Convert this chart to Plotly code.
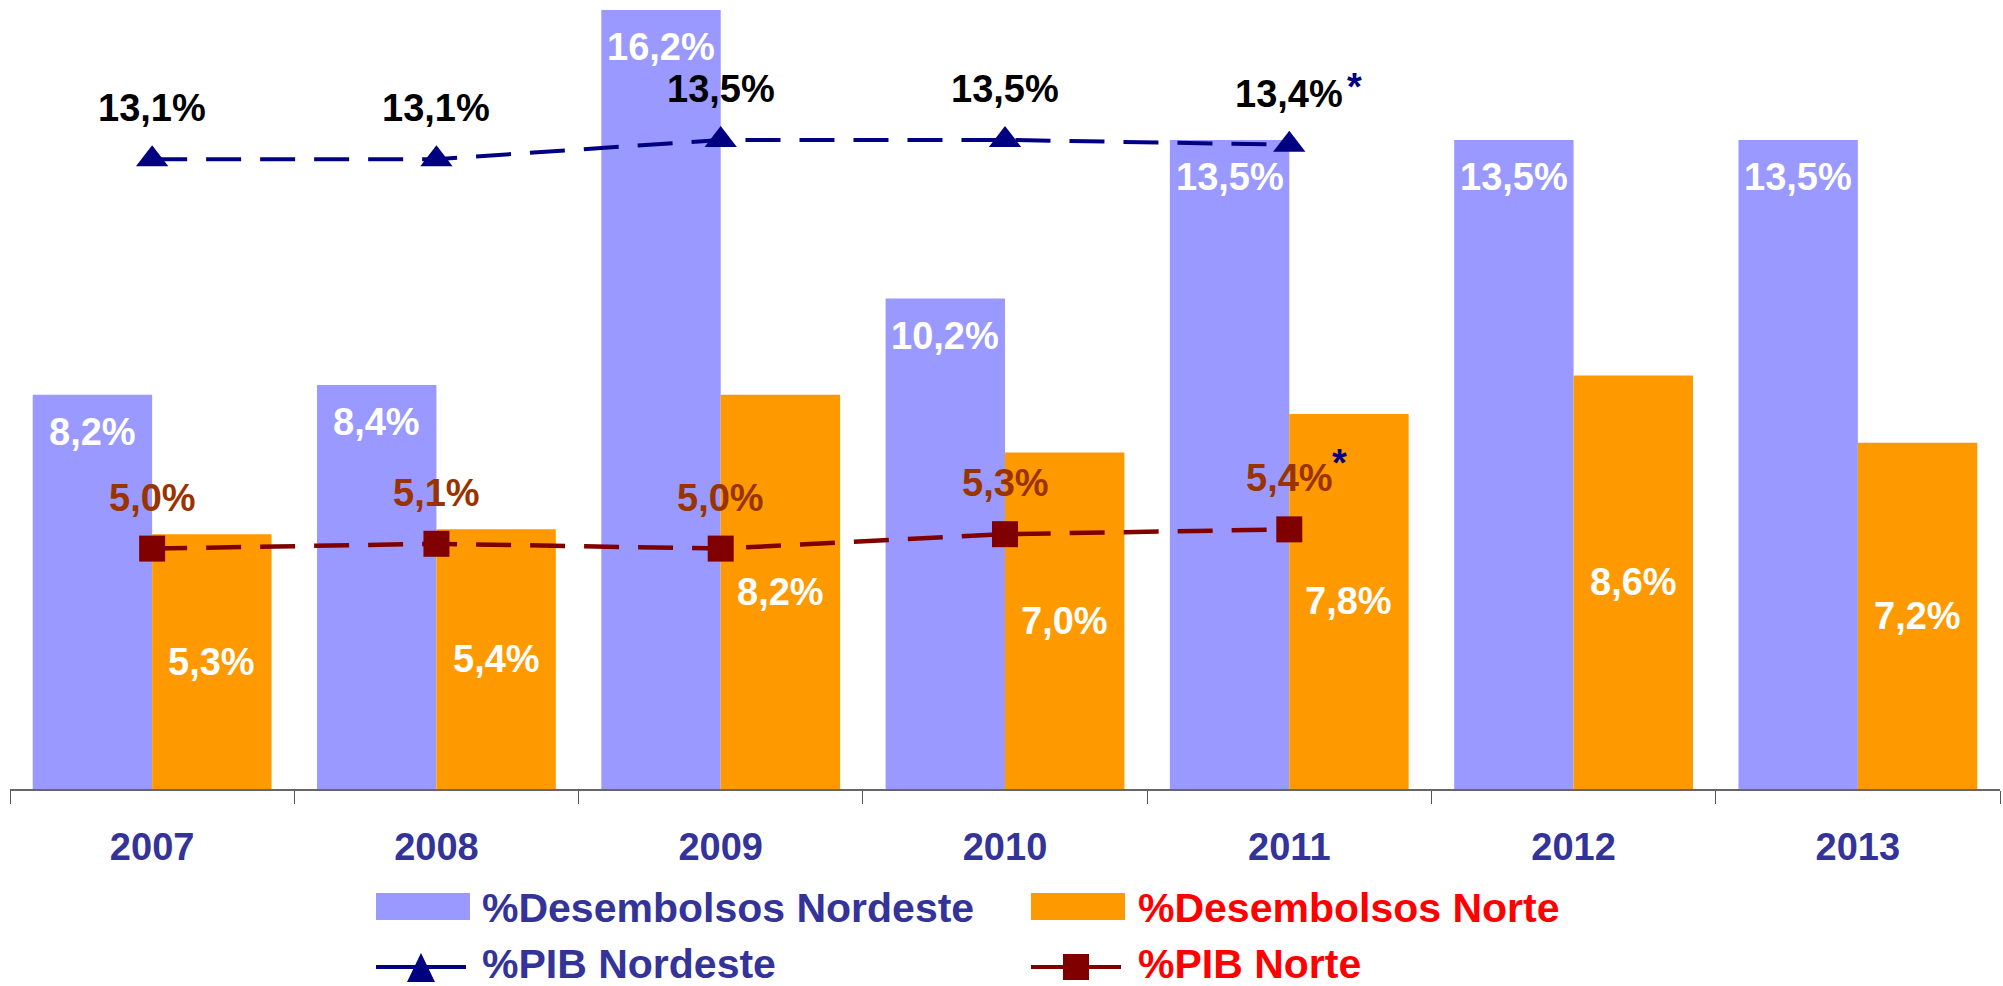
import plotly.graph_objects as go

years = ["2007", "2008", "2009", "2010", "2011", "2012", "2013"]
desemb_nordeste = [8.2, 8.4, 16.2, 10.2, 13.5, 13.5, 13.5]
desemb_norte = [5.3, 5.4, 8.2, 7.0, 7.8, 8.6, 7.2]
pib_years = ["2007", "2008", "2009", "2010", "2011"]
pib_nordeste = [13.1, 13.1, 13.5, 13.5, 13.4]
pib_norte = [5.0, 5.1, 5.0, 5.3, 5.4]
starred_year = "2011"

legend_labels = ["%Desembolsos Nordeste", "%Desembolsos Norte", "%PIB Nordeste", "%PIB Norte"]

C_NE_BAR = "#9999FF"
C_N_BAR = "#FF9900"
C_NE_LINE = "#000080"
C_N_LINE = "#800000"
C_N_LABEL = "#993300"
C_AXIS_TXT = "#333399"

FONT = "Liberation Sans, Arial, sans-serif"
W, H = 2003, 986
ML, MR, MT, MB = 10, 3, 0, 197
PW, PH = W - ML - MR, H - MT - MB
YMAX = 16.41


def fmt(v):
    return f"{v:.1f}".replace(".", ",") + "%"


def px(xp):
    return (xp - ML) / PW


def py(yp):
    return (H - MB - yp) / PH


def idx(yr):
    return years.index(yr)


fig = go.Figure()
fig.add_trace(go.Bar(x=years, y=desemb_nordeste, marker_color=C_NE_BAR,
                     marker_line_width=0, name=legend_labels[0]))
fig.add_trace(go.Bar(x=years, y=desemb_norte, marker_color=C_N_BAR,
                     marker_line_width=0, name=legend_labels[1]))
fig.add_trace(go.Scatter(x=pib_years, y=pib_nordeste, mode="lines+markers",
                         line=dict(color=C_NE_LINE, width=4, dash="35px,19px"),
                         marker=dict(symbol="triangle-up", size=28, color=C_NE_LINE),
                         name=legend_labels[2]))
fig.add_trace(go.Scatter(x=pib_years, y=pib_norte, mode="lines+markers",
                         line=dict(color=C_N_LINE, width=4.5, dash="35px,19px"),
                         marker=dict(symbol="square", size=26, color=C_N_LINE),
                         name=legend_labels[3]))

ann = []
half = 0.84 / 4  # half of one bar width, in category units
lab_font = dict(family=FONT, size=38, weight="bold")
for yr, v in zip(years, desemb_nordeste):
    ann.append(dict(x=idx(yr) - half, y=v, xref="x", yref="y", text=fmt(v), showarrow=False,
                    yshift=-37, yanchor="middle",
                    font=dict(lab_font, color="white")))
for yr, v in zip(years, desemb_norte):
    ann.append(dict(x=idx(yr) + half, y=v / 2, xref="x", yref="y", text=fmt(v), showarrow=False,
                    yanchor="middle",
                    font=dict(lab_font, color="white")))
for yr, v in zip(pib_years, pib_nordeste):
    ann.append(dict(x=idx(yr), y=v, xref="x", yref="y", text=fmt(v), showarrow=False,
                    yshift=51, yanchor="middle", font=dict(lab_font, color="black")))
    if yr == starred_year:
        ann.append(dict(x=idx(yr), y=v, xref="x", yref="y", text="*", showarrow=False,
                        xshift=65, yshift=58, yanchor="middle",
                        font=dict(lab_font, color=C_NE_LINE)))
for yr, v in zip(pib_years, pib_norte):
    ann.append(dict(x=idx(yr), y=v, xref="x", yref="y", text=fmt(v), showarrow=False,
                    yshift=51, yanchor="middle", font=dict(lab_font, color=C_N_LABEL)))
    if yr == starred_year:
        ann.append(dict(x=idx(yr), y=v, xref="x", yref="y", text="*", showarrow=False,
                        xshift=50, yshift=66, yanchor="middle",
                        font=dict(lab_font, color=C_NE_LINE)))

# custom legend
shapes = []
leg_font = dict(family=FONT, size=41, weight="bold")
cols = [(376, 470, 480), (1031, 1125, 1136)]
rows = [908, 964]
text_colors = [C_AXIS_TXT, "#FF0000"]
bar_colors = [C_NE_BAR, C_N_BAR]
line_colors = [C_NE_LINE, C_N_LINE]
for ci, (x0, x1, tx) in enumerate(cols):
    shapes.append(dict(type="rect", xref="paper", yref="paper",
                       x0=px(x0), x1=px(x1), y0=py(920), y1=py(893),
                       fillcolor=bar_colors[ci], line_width=0))
    ann.append(dict(xref="paper", yref="paper", x=px(tx), y=py(rows[0]),
                    text=legend_labels[ci], showarrow=False, xanchor="left",
                    yanchor="middle", font=dict(leg_font, color=text_colors[ci])))
    ly = 967
    shapes.append(dict(type="line", xref="paper", yref="paper",
                       x0=px(x0), x1=px(x1 - 4), y0=py(ly), y1=py(ly),
                       line=dict(color=line_colors[ci], width=4)))
    cx = (x0 + x1 - 4) / 2
    if ci == 0:
        path = (f"M {px(cx - 14)} {py(982)} L {px(cx + 14)} {py(982)} "
                f"L {px(cx)} {py(953)} Z")
        shapes.append(dict(type="path", xref="paper", yref="paper", path=path,
                           fillcolor=line_colors[ci], line_width=0))
    else:
        shapes.append(dict(type="rect", xref="paper", yref="paper",
                           x0=px(cx - 13), x1=px(cx + 13), y0=py(980), y1=py(954),
                           fillcolor=line_colors[ci], line_width=0))
    ann.append(dict(xref="paper", yref="paper", x=px(tx), y=py(rows[1]),
                    text=legend_labels[ci + 2], showarrow=False, xanchor="left",
                    yanchor="middle", font=dict(leg_font, color=text_colors[ci])))

fig.update_layout(
    width=W, height=H,
    margin=dict(l=ML, r=MR, t=MT, b=MB, pad=0),
    barmode="group", bargap=0.16, bargroupgap=0,
    plot_bgcolor="white", paper_bgcolor="white",
    showlegend=False,
    annotations=ann, shapes=shapes,
    xaxis=dict(type="category", range=[-0.5, len(years) - 0.5], autorange=False,
               showline=True, linecolor="#666666", linewidth=1.5,
               ticks="outside", ticklen=13, tickcolor="#555555", tickwidth=1.2,
               tickson="boundaries", tickangle=0, showgrid=False, zeroline=False,
               ticklabelstandoff=24,
               tickfont=dict(family=FONT, size=38, color=C_AXIS_TXT, weight="bold")),
    yaxis=dict(range=[0, YMAX], autorange=False, visible=False, showgrid=False,
               zeroline=False),
)

fig.write_html("out.html", config={"displayModeBar": False},
               post_script="document.body.style.margin='0px';"
                           "document.documentElement.style.overflow='hidden';")
